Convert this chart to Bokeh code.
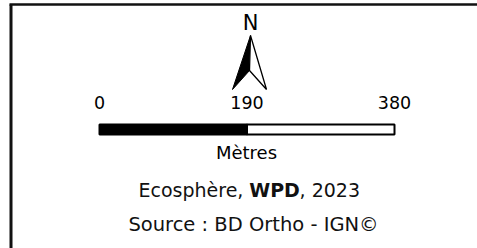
from bokeh.plotting import figure
from bokeh.models import Range1d
from bokeh.core.properties import value
from bokeh.embed import file_html
from bokeh.resources import INLINE

# ---- content ----
scale_ticks = [0, 190, 380]
scale_labels = ["0", "190", "380"]
seg_start = [0, 190]
seg_end = [190, 380]
seg_colors = ["black", "white"]
unit_label = "Mètres"
north_label = "N"
credit_parts = ["Ecosphère,", "WPD", ", 2023"]
source_text = "Source : BD Ortho - IGN©"

FONT = "DejaVu Sans"
W, H = 477, 248
BAR_X0, BAR_X1 = 99, 394          # page px of 0 m and 380 m
PX_PER_M = (BAR_X1 - BAR_X0) / 380.0
DY = -7                            # baseline correction for text


def X(px):
    return (px - BAR_X0) / PX_PER_M


p = figure(width=W, height=H, output_backend="svg", toolbar_location=None,
           x_range=Range1d(X(0), X(W)), y_range=Range1d(H, 0),
           min_border=0, outline_line_color=None,
           background_fill_color="white", border_fill_color="white")
p.axis.visible = False
p.grid.visible = False
p.styles = {"position": "absolute", "left": "0px", "top": "0px"}

# frame
p.line(x=[X(10.5), X(10.5)], y=[4, H + 10], line_color="#111111", line_width=3)
p.line(x=[X(9), X(W + 10)], y=[4, 4], line_color="#111111", line_width=2.5)

# north arrow
p.text(x=[X(250)], y=[29.5 + DY], text=[north_label], text_align="center",
       text_baseline="alphabetic", text_font=value(FONT),
       text_font_size="21px", text_color="black")
p.patch(x=[X(250), X(232), X(249)], y=[35, 89, 70],
        fill_color="black", line_color="black", line_width=1)
p.patch(x=[X(250), X(249), X(266)], y=[35, 70, 89],
        fill_color="white", line_color="black", line_width=1.3)

# scale bar
p.quad(left=seg_start, right=seg_end, top=124, bottom=134,
       fill_color=seg_colors, line_color="black", line_width=2)
p.text(x=scale_ticks, y=[108.5 + DY] * 3, text=scale_labels, text_align="center",
       text_baseline="alphabetic", text_font=value(FONT),
       text_font_size="17.5px", text_color="black")
p.text(x=[X(246)], y=[159 + DY], text=[unit_label], text_align="center",
       text_baseline="alphabetic", text_font=value(FONT),
       text_font_size="18px", text_color="black")

# credits
p.text(x=[X(138)], y=[196 + DY], text=[credit_parts[0]], text_align="left",
       text_baseline="alphabetic", text_font=value(FONT),
       text_font_size="19px", text_color="#111111")
p.text(x=[X(274)], y=[196 + DY], text=[credit_parts[1]], text_align="center",
       text_baseline="alphabetic", text_font=value(FONT),
       text_font_style="bold", text_font_size="19px", text_color="#111111")
p.text(x=[X(359.5)], y=[196 + DY], text=[credit_parts[2]], text_align="right",
       text_baseline="alphabetic", text_font=value(FONT),
       text_font_size="19px", text_color="#111111")
p.text(x=[X(253)], y=[231 + DY], text=[source_text], text_align="center",
       text_baseline="alphabetic", text_font=value(FONT),
       text_font_size="19.5px", text_color="#111111")

open("out.html", "w").write(file_html(p, INLINE))
